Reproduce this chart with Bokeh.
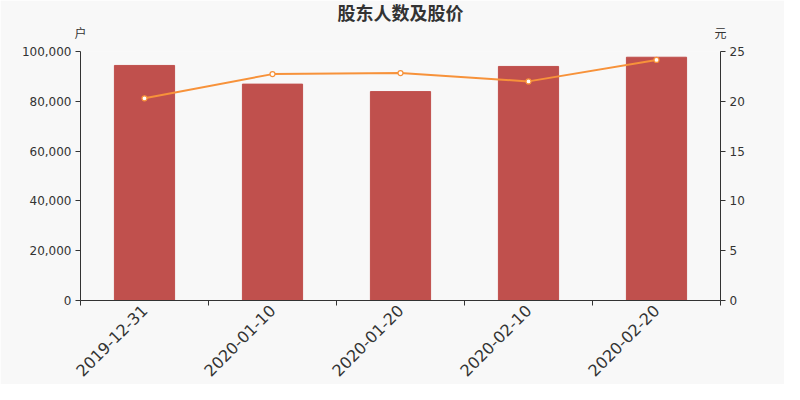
import math
from bokeh.plotting import figure
from bokeh.models import (ColumnDataSource, Range1d, LinearAxis, FixedTicker,
                          NumeralTickFormatter)
from bokeh.embed import file_html
from bokeh.resources import INLINE

dates = ["2019-12-31", "2020-01-10", "2020-01-20", "2020-02-10", "2020-02-20"]
holders = [94400, 86900, 83900, 94000, 97700]
price = [20.3, 22.73, 22.83, 22.0, 24.15]
left_ticks = [0, 20000, 40000, 60000, 80000, 100000]
right_ticks = [0, 5, 10, 15, 20, 25]
units = ["户", "元"]

BG = "#f8f8f8"
TXT = "#333333"
NUM_FONT = "DejaVu Sans"
CJK_FONT = "Noto Sans CJK SC"
N = len(dates)

xs = [i + 0.5 for i in range(N)]
src = ColumnDataSource(dict(x=xs, holders=holders, price=price))

p = figure(width=784, height=384, output_backend="svg", toolbar_location=None,
           x_range=Range1d(0, N), y_range=Range1d(0, 100000),
           min_border_left=80, min_border_right=64, min_border_top=50,
           min_border_bottom=84, background_fill_color=BG,
           border_fill_color=BG, outline_line_color=None)
p.extra_y_ranges = {"price": Range1d(0, 25)}
p.grid.visible = False

p.title.text = "股东人数及股价"
p.title.align = "center"
p.title.text_font = CJK_FONT
p.title.text_font_size = "18px"
p.title.text_font_style = "bold"
p.title.text_color = TXT
p.title.standoff = -8

p.vbar(x="x", top="holders", width=0.47, source=src, color="#c0504d")
p.line(x="x", y="price", source=src, y_range_name="price",
       line_color="#f7923a", line_width=2)
p.scatter(x="x", y="price", source=src, y_range_name="price", size=5,
          fill_color="white", line_color="#f7923a", line_width=1.2)

# x axis
xa = p.xaxis[0]
xa.ticker = FixedTicker(ticks=xs, minor_ticks=list(range(N + 1)))
xa.major_label_overrides = {x: d for x, d in zip(xs, dates)}
xa.major_tick_out = 0
xa.major_tick_in = 0
xa.minor_tick_out = 5
xa.minor_tick_in = 0
xa.minor_tick_line_color = TXT
xa.axis_line_color = TXT
xa.major_label_orientation = math.pi / 4
xa.major_label_text_font = NUM_FONT
xa.major_label_text_font_size = "16px"
xa.major_label_text_color = TXT
xa.major_label_standoff = 2

# left y axis
ya = p.yaxis[0]
ya.ticker = FixedTicker(ticks=left_ticks)
ya.formatter = NumeralTickFormatter(format="0,0")
ya.minor_tick_line_color = None
ya.major_tick_out = 5
ya.major_tick_in = 0
ya.major_tick_line_color = TXT
ya.axis_line_color = TXT
ya.major_label_text_font = NUM_FONT
ya.major_label_text_font_size = "12px"
ya.major_label_text_color = TXT
ya.major_label_standoff = 4

# right y axis
ra = LinearAxis(y_range_name="price", ticker=FixedTicker(ticks=right_ticks))
ra.minor_tick_line_color = None
ra.major_tick_out = 5
ra.major_tick_in = 0
ra.major_tick_line_color = TXT
ra.axis_line_color = TXT
ra.major_label_text_font = NUM_FONT
ra.major_label_text_font_size = "12px"
ra.major_label_text_color = TXT
ra.major_label_standoff = 4
p.add_layout(ra, "right")

# unit names above the two value axes: an invisible top axis whose only
# tick labels sit at the left and right edges of the frame
ua = LinearAxis(ticker=FixedTicker(ticks=[0, N], minor_ticks=[]))
ua.major_label_overrides = {0: units[0], N: units[1]}
ua.axis_line_color = None
ua.major_tick_line_color = None
ua.minor_tick_line_color = None
ua.major_tick_out = 0
ua.major_tick_in = 0
ua.major_label_standoff = 11
ua.major_label_text_font = CJK_FONT
ua.major_label_text_font_size = "12px"
ua.major_label_text_color = TXT
p.add_layout(ua, "above")

open("out.html", "w").write(file_html(p, INLINE))
